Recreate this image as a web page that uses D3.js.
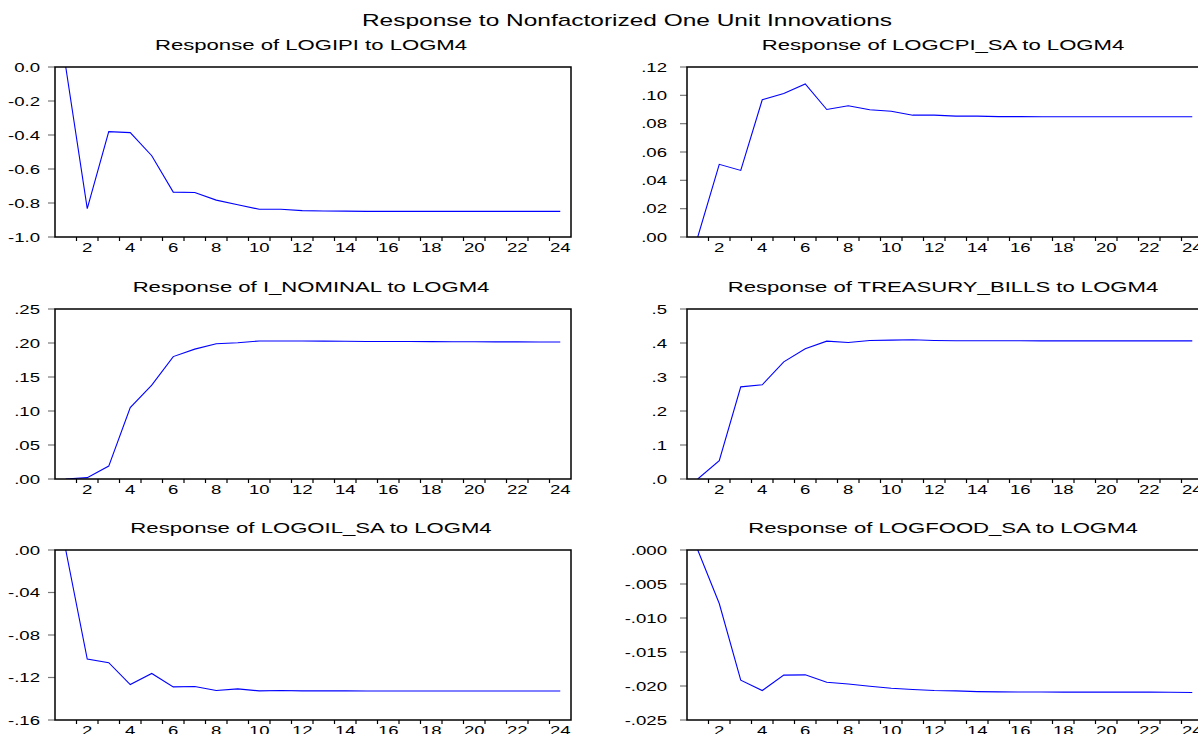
<!DOCTYPE html>
<html>
<head>
<meta charset="utf-8">
<script src="https://cdn.jsdelivr.net/npm/d3@7"></script>
<style>
  body { margin: 0; background: #fff; }
  svg { display: block; }
  text { font-family: "Liberation Sans", Arial, sans-serif; fill: #000; }
</style>
</head>
<body>
<div id="chart"></div>
<script>
var periods = d3.range(1, 25);
var xTickLabels = [2, 4, 6, 8, 10, 12, 14, 16, 18, 20, 22, 24];

var logipi = [0, -0.833, -0.380, -0.386, -0.522, -0.736, -0.738, -0.783, -0.810, -0.837, -0.837, -0.845,
              -0.847, -0.848, -0.849, -0.849, -0.849, -0.849, -0.849, -0.849, -0.849, -0.849, -0.849, -0.849];
var logcpi = [0, 0.0513, 0.0470, 0.0969, 0.1013, 0.1080, 0.0900, 0.0926, 0.0898, 0.0888, 0.0860, 0.0860,
              0.0853, 0.0853, 0.0850, 0.0850, 0.0849, 0.0849, 0.0849, 0.0849, 0.0849, 0.0849, 0.0849, 0.0849];
var iNominal = [0, 0.002, 0.019, 0.105, 0.138, 0.180, 0.191, 0.199, 0.2003, 0.203, 0.203, 0.203,
                0.2028, 0.2025, 0.2023, 0.2022, 0.2021, 0.2020, 0.2019, 0.2018, 0.2017, 0.2016, 0.2015, 0.2015];
var treasury = [0, 0.054, 0.271, 0.277, 0.3445, 0.383, 0.4055, 0.4016, 0.4075, 0.4085, 0.4094, 0.4075,
                0.4068, 0.4068, 0.4066, 0.4064, 0.4063, 0.4063, 0.4062, 0.4062, 0.4062, 0.4062, 0.4062, 0.4062];
var logoil = [0, -0.1027, -0.1061, -0.1266, -0.1162, -0.1288, -0.1285, -0.1323, -0.1307, -0.1326, -0.1323, -0.1326,
              -0.1326, -0.1326, -0.1327, -0.1327, -0.1327, -0.1327, -0.1327, -0.1327, -0.1327, -0.1327, -0.1327, -0.1327];
var logfood = [0, -0.00787, -0.01914, -0.02067, -0.01840, -0.01836, -0.01944, -0.01970, -0.02003, -0.02032, -0.02052, -0.02067,
               -0.02072, -0.02082, -0.02087, -0.02088, -0.02089, -0.02090, -0.02090, -0.02090, -0.02090, -0.02090, -0.02092, -0.02095];

var yTicksIpi = [0, -0.2, -0.4, -0.6, -0.8, -1.0];
var yLabelsIpi = ["0.0", "-0.2", "-0.4", "-0.6", "-0.8", "-1.0"];
var yTicksCpi = [0.12, 0.10, 0.08, 0.06, 0.04, 0.02, 0];
var yLabelsCpi = [".12", ".10", ".08", ".06", ".04", ".02", ".00"];
var yTicksNom = [0.25, 0.20, 0.15, 0.10, 0.05, 0];
var yLabelsNom = [".25", ".20", ".15", ".10", ".05", ".00"];
var yTicksTb = [0.5, 0.4, 0.3, 0.2, 0.1, 0];
var yLabelsTb = [".5", ".4", ".3", ".2", ".1", ".0"];
var yTicksOil = [0, -0.04, -0.08, -0.12, -0.16];
var yLabelsOil = [".00", "-.04", "-.08", "-.12", "-.16"];
var yTicksFood = [0, -0.005, -0.010, -0.015, -0.020, -0.025];
var yLabelsFood = [".000", "-.005", "-.010", "-.015", "-.020", "-.025"];

var panels = [
    {title: "Response of LOGIPI to LOGM4", values: logipi, ticks: yTicksIpi, labels: yLabelsIpi, col: 0, row: 0},
    {title: "Response of LOGCPI_SA to LOGM4", values: logcpi, ticks: yTicksCpi, labels: yLabelsCpi, col: 1, row: 0},
    {title: "Response of I_NOMINAL to LOGM4", values: iNominal, ticks: yTicksNom, labels: yLabelsNom, col: 0, row: 1},
    {title: "Response of TREASURY_BILLS to LOGM4", values: treasury, ticks: yTicksTb, labels: yLabelsTb, col: 1, row: 1},
    {title: "Response of LOGOIL_SA to LOGM4", values: logoil, ticks: yTicksOil, labels: yLabelsOil, col: 0, row: 2},
    {title: "Response of LOGFOOD_SA to LOGM4", values: logfood, ticks: yTicksFood, labels: yLabelsFood, col: 1, row: 2}
];

var W = 1198, H = 734;
var layout = {colX: [55, 687], rowY: [67, 309, 550], pw: 516, ph: 170, labelGap: [15, 20]};
var stretch = 1.55;

var svg = d3.select("#chart").append("svg").attr("width", W).attr("height", H);

// text in the source is drawn wide, so stretch it horizontally
function wideText(parent, x, y, str, size, anchor, sx) {
    return parent.append("text")
        .attr("transform", "translate(" + x + "," + y + ") scale(" + (sx || stretch) + ",1)")
        .attr("text-anchor", anchor)
        .style("font-size", size + "px")
        .text(str);
}

wideText(svg, 627, 26, "Response to Nonfactorized One Unit Innovations", 16, "middle", 1.53);

panels.forEach(function(p) {
    var x0 = layout.colX[p.col], y0 = layout.rowY[p.row];
    var g = svg.append("g").attr("transform", "translate(" + x0 + "," + y0 + ")");
    var x = d3.scaleLinear().domain([0.5, 24.5]).range([0, layout.pw]);
    var y = d3.scaleLinear().domain(d3.extent(p.ticks)).range([layout.ph, 0]);

    wideText(g, layout.pw / 2 - 2, -17, p.title, 14, "middle", 1.58);

    // y ticks + labels
    p.ticks.forEach(function(t, i) {
        g.append("line").attr("x1", -7).attr("x2", 0).attr("y1", y(t)).attr("y2", y(t))
            .attr("stroke", "#777").attr("stroke-width", 1.2);
        wideText(g, -layout.labelGap[p.col], y(t) + 4.5, p.labels[i], 12, "end");
    });

    // x ticks at half periods, labels at even periods
    d3.range(1.5, 24, 1).forEach(function(t) {
        g.append("line").attr("x1", x(t)).attr("x2", x(t)).attr("y1", layout.ph).attr("y2", layout.ph + 4)
            .attr("stroke", "#000").attr("stroke-width", 1.2);
    });
    xTickLabels.forEach(function(t) {
        wideText(g, x(t), layout.ph + 15, String(t), 12, "middle");
    });

    g.append("defs").append("clipPath").attr("id", "clip" + p.col + p.row)
        .append("rect").attr("width", layout.pw).attr("height", layout.ph);

    var line = d3.line().x(function(d, i) { return x(periods[i]); }).y(function(d) { return y(d); });
    g.append("path").datum(p.values)
        .attr("clip-path", "url(#clip" + p.col + p.row + ")")
        .attr("fill", "none").attr("stroke", "#0000ff").attr("stroke-width", 1.1)
        .attr("d", line);

    g.append("rect").attr("width", layout.pw).attr("height", layout.ph)
        .attr("fill", "none").attr("stroke", "#000").attr("stroke-width", 1.5);
});
</script>
</body>
</html>
